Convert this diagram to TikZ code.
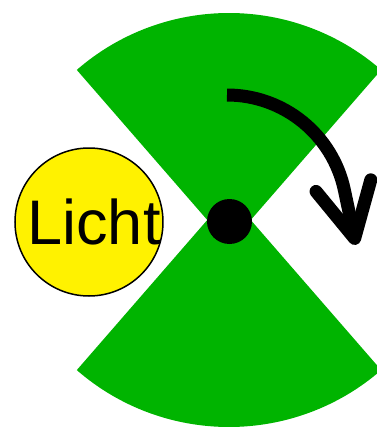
\documentclass[tikz,border=0pt]{standalone}
\usepackage{fontspec}
\setmainfont{Liberation Sans}
\usetikzlibrary{positioning,arrows.meta}
\definecolor{beamgreen}{RGB}{0,180,0}

\begin{document}
\begin{tikzpicture}[
    x=1pt, y=1pt,
    beam/.style={
        fill=beamgreen,
        draw=none
    },
    lamp/.style={
        circle,
        draw,
        line width=1.5pt,
        fill=yellow,
        minimum size=148pt,
        inner sep=0pt
    },
    pivot/.style={
        circle,
        fill=black,
        minimum size=45pt,
        inner sep=0pt
    },
    turn/.style={
        line width=13pt,
        -{Straight Barb[length=54pt,width=56pt,round]}
    }
]
\useasboundingbox (-229,-209) rectangle (148,220);
\clip (-229,-209) rectangle (148,220);

% The two beams
\fill[beam] (0,-25) -- ++(49:232) arc[start angle=49, end angle=131, radius=232] -- cycle;
\fill[beam] (0,25) -- ++(229:232) arc[start angle=229, end angle=311, radius=232] -- cycle;

% Lamp
\node[lamp] (licht) at (-140,-2) {};
\node[font=\fontsize{63}{70}\selectfont, inner sep=0pt] (lichttext) at ([xshift=5pt]licht.center) {Licht};

% Pivot
\node[pivot] (achse) at (0.5,-1.5) {};

% Direction of rotation
\coordinate (start) at (-2,125);
\draw[turn] (start) arc[start angle=90, end angle=12, radius=120] -- ++(-78:56);
\end{tikzpicture}
\end{document}
